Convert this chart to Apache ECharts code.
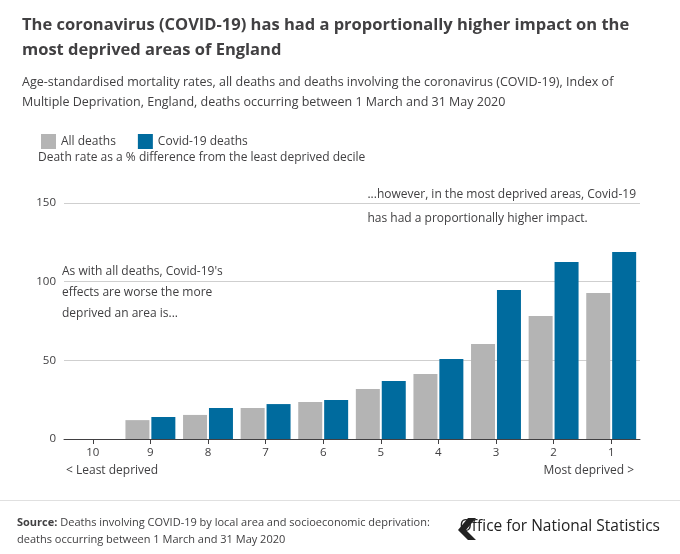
<!DOCTYPE html>
<html>
<head>
<meta charset="utf-8">
<script src="https://cdn.jsdelivr.net/npm/echarts@6/dist/echarts.min.js"></script>
<style>body{margin:0;background:#fff}#c{width:680px;height:554px}</style>
</head>
<body>
<div id="c"></div>
<script>
// deciles, 10 = least deprived, 1 = most deprived
var deciles = ["10", "9", "8", "7", "6", "5", "4", "3", "2", "1"];
var allDeaths = [0, 12, 15.3, 19.7, 23.5, 31.8, 41.3, 60.4, 78.2, 92.8];
var covidDeaths = [0, 14, 19.7, 22.2, 24.8, 36.9, 50.9, 94.7, 112.5, 118.9];
var yTicks = [0, 50, 100, 150];

var font = "Open Sans";
var txt = "#414042";
var chart = echarts.init(document.getElementById("c"));

var option = {
    animation: false,
    textStyle: {fontFamily: font},
    title: [{
        text: "The coronavirus (COVID-19) has had a proportionally higher impact on the\nmost deprived areas of England",
        left: 17, top: 8,
        textStyle: {fontSize: 16.5, fontWeight: "bold", color: txt, lineHeight: 25, fontFamily: font}
    }, {
        text: "Age-standardised mortality rates, all deaths and deaths involving the coronavirus (COVID-19), Index of\nMultiple Deprivation, England, deaths occurring between 1 March and 31 May 2020",
        left: 17, top: 67,
        textStyle: {fontSize: 12.5, fontWeight: "normal", color: txt, lineHeight: 20, fontFamily: font}
    }],
    legend: {
        left: 36, top: 129, itemWidth: 15, itemHeight: 15, itemGap: 22,
        icon: "rect",
        textStyle: {fontSize: 12, color: txt, fontFamily: font},
        data: ["All deaths", "Covid-19 deaths"]
    },
    grid: {left: 64, right: 40, top: 203, bottom: 115},
    xAxis: {
        type: "category", data: deciles,
        axisLine: {lineStyle: {color: "#414042"}},
        axisTick: {show: true, alignWithLabel: true, length: 5, lineStyle: {color: "#414042"}},
        axisLabel: {color: txt, fontSize: 11.5, margin: 8}
    },
    yAxis: {
        type: "value", min: 0, max: 150, interval: 50,
        axisLabel: {color: txt, fontSize: 11.5, margin: 8},
        splitLine: {lineStyle: {color: "#cfcfcf"}},
        axisLine: {show: false}, axisTick: {show: false}
    },
    series: [{
        name: "All deaths", type: "bar", data: allDeaths,
        itemStyle: {color: "#b4b4b4"}, barWidth: 24, barGap: "8%"
    }, {
        name: "Covid-19 deaths", type: "bar", data: covidDeaths,
        itemStyle: {color: "#006b9e"}, barWidth: 24
    }],
    graphic: [
        {type: "text", left: 38, top: 152, style: {text: "Death rate as a % difference from the least deprived decile", fontSize: 12, fill: txt, fontFamily: font}},
        {type: "text", right: 40, top: 183, style: {text: "...however, in the most deprived areas, Covid-19\nhas had a proportionally higher impact.", fontSize: 12, fill: txt, fontFamily: font, lineHeight: 24, align: "right", backgroundColor: "#fff", padding: [0, 4]}},
        {type: "text", left: 62, top: 261, style: {text: "As with all deaths, Covid-19's\neffects are worse the more\ndeprived an area is...", fontSize: 12, fill: txt, fontFamily: font, lineHeight: 21, backgroundColor: "#fff"}},
        {type: "text", left: 66, top: 465, style: {text: "< Least deprived", fontSize: 12, fill: txt, fontFamily: font}},
        {type: "text", right: 46, top: 465, style: {text: "Most deprived >", fontSize: 12, fill: txt, fontFamily: font}},
        {type: "rect", left: 0, top: 500, shape: {width: 680, height: 1}, style: {fill: "#e0e0e0"}},
        {type: "text", left: 17, top: 514, style: {text: "{b|Source:} Deaths involving COVID-19 by local area and socioeconomic deprivation:\ndeaths occurring between 1 March and 31 May 2020", fontSize: 11, fill: txt, fontFamily: font, lineHeight: 17, rich: {b: {fontWeight: "bold", fontSize: 11, fill: txt, fontFamily: font}}}},
        {type: "text", right: 20, top: 519, style: {text: "Office for National Statistics", fontSize: 15.5, fill: "#222", fontFamily: font}},
        {type: "polygon", left: 458, top: 518, shape: {points: [[0, 12], [10, 0], [18, 0], [8, 12], [18, 22], [10, 22]]}, style: {fill: "#222"}}
    ]
};
chart.setOption(option);
</script>
</body>
</html>
